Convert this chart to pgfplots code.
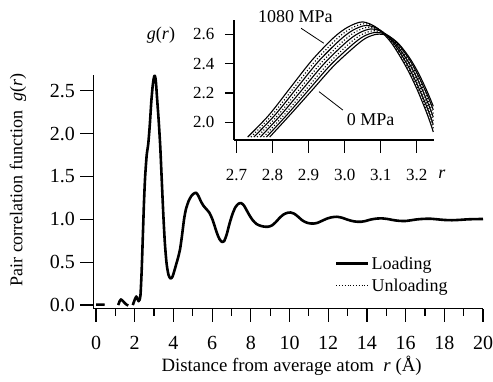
\documentclass[border=0pt]{standalone}
\usepackage{pgfplots}
\pgfplotsset{compat=1.18}
\usepackage{fontspec}
\setmainfont{Liberation Serif}
\begin{document}
\begin{tikzpicture}[x=1pt,y=1pt]
\path[use as bounding box] (0,0) rectangle (493,381);
% ---------------- main axis ----------------
\begin{axis}[
  at={(93.1pt,72.5pt)}, anchor=south west,
  scale only axis, width=389.9pt, height=233.5pt,
  xmin=-0.15, xmax=20, ymin=-0.04, ymax=2.684,
  axis x line*=bottom, axis y line*=left,
  axis line style={line width=1.2pt},
  every tick/.style={black, line width=1.2pt},
  tick align=outside,
  major tick length=13pt, minor tick length=7pt,
  xtick={0,2,4,6,8,10,12,14,16,18,20},
  minor xtick={1,3,5,7,9,11,13,15,17,19},
  ytick={0,0.5,1,1.5,2,2.5},
  /pgf/number format/assume math mode=true,
  tick label style={font=\fontsize{20}{20}\selectfont},
  xticklabel style={anchor=base, inner sep=0pt, yshift=-27.8pt},
  yticklabel style={anchor=east, inner sep=0pt, xshift=-5pt,
    /pgf/number format/.cd, fixed, fixed zerofill, precision=1},
  clip=false,
  unbounded coords=jump,
  legend style={at={(axis description cs:0.62,0.232)}, anchor=north west,
    draw=none, fill=none, inner sep=0pt, row sep=4pt,
    font=\fontsize{18}{18}\selectfont,
    /tikz/every even column/.append style={column sep=9pt}},
  legend cell align=left,
  legend image code/.code={\draw[#1] (0pt,0pt) -- (32pt,0pt);},
]
\addplot[black, line width=2.6pt, line join=round, smooth, tension=0.4, no marks] coordinates {
(0.00,0.005) (0.45,0.005) (nan,nan)
(1.15,0.00) (1.22,0.045) (1.29,0.066) (1.38,0.05) (1.48,0.025) (1.58,0.005) (1.67,-0.005) (nan,nan)
(1.90,0.00) (1.98,0.05) (2.08,0.10) (2.15,0.07) (2.20,0.045) (2.25,0.06) (2.30,0.12)
(2.36,0.40) (2.42,0.80) (2.48,1.20) (2.54,1.50) (2.62,1.75) (2.70,1.88) (2.78,2.10)
(2.86,2.38) (2.94,2.58) (3.00,2.66) (3.04,2.675) (3.09,2.62) (3.16,2.40) (3.24,2.15)
(3.32,1.85) (3.40,1.45) (3.48,1.05) (3.56,0.72) (3.65,0.48) (3.75,0.35) (3.85,0.31)
(3.95,0.33) (4.05,0.40) (4.15,0.48) (4.25,0.56) (4.35,0.66) (4.45,0.82) (4.55,1.00)
(4.65,1.12) (4.78,1.21) (4.92,1.27) (5.05,1.30) (5.18,1.31) (5.30,1.27) (5.42,1.21)
(5.55,1.16) (5.70,1.12) (5.85,1.08) (6.00,1.01) (6.12,0.93) (6.25,0.84) (6.38,0.77)
(6.52,0.735) (6.62,0.745) (6.75,0.82) (6.90,0.95) (7.05,1.06) (7.20,1.14) (7.35,1.18)
(7.50,1.19) (7.65,1.16) (7.80,1.10) (7.95,1.04) (8.10,0.99) (8.30,0.945) (8.50,0.925)
(8.70,0.915) (8.90,0.914) (9.10,0.93) (9.30,0.97) (9.50,1.02) (9.70,1.058) (9.90,1.077)
(10.05,1.08) (10.25,1.065) (10.45,1.03) (10.65,0.99) (10.85,0.965) (11.05,0.953)
(11.25,0.951) (11.45,0.96) (11.70,0.985) (11.95,1.01) (12.20,1.025) (12.45,1.03)
(12.70,1.02) (12.95,1.00) (13.20,0.983) (13.45,0.973) (13.70,0.972) (13.95,0.982)
(14.20,0.998) (14.50,1.009) (14.80,1.011) (15.10,1.003) (15.40,0.99) (15.70,0.982)
(16.00,0.981) (16.30,0.99) (16.60,1.00) (16.95,1.006) (17.30,1.007) (17.65,1.00)
(18.00,0.993) (18.40,0.99) (18.80,0.994) (19.20,1.00) (19.60,1.003) (20.00,1.004)
};
\addlegendentry{Loading}
\addplot[black, line width=0.8pt, dotted, smooth, tension=0.4, no marks] coordinates {
(0.00,0.005) (0.45,0.005) (nan,nan)
(1.15,0.00) (1.22,0.045) (1.29,0.066) (1.38,0.05) (1.48,0.025) (1.58,0.005) (1.67,-0.005) (nan,nan)
(1.90,0.00) (1.98,0.05) (2.08,0.10) (2.15,0.07) (2.20,0.045) (2.25,0.06) (2.30,0.12)
(2.36,0.40) (2.42,0.80) (2.48,1.20) (2.54,1.50) (2.62,1.75) (2.70,1.88) (2.78,2.10)
(2.86,2.38) (2.94,2.58) (3.00,2.66) (3.04,2.675) (3.09,2.62) (3.16,2.40) (3.24,2.15)
(3.32,1.85) (3.40,1.45) (3.48,1.05) (3.56,0.72) (3.65,0.48) (3.75,0.35) (3.85,0.31)
(3.95,0.33) (4.05,0.40) (4.15,0.48) (4.25,0.56) (4.35,0.66) (4.45,0.82) (4.55,1.00)
(4.65,1.12) (4.78,1.21) (4.92,1.27) (5.05,1.30) (5.18,1.31) (5.30,1.27) (5.42,1.21)
(5.55,1.16) (5.70,1.12) (5.85,1.08) (6.00,1.01) (6.12,0.93) (6.25,0.84) (6.38,0.77)
(6.52,0.735) (6.62,0.745) (6.75,0.82) (6.90,0.95) (7.05,1.06) (7.20,1.14) (7.35,1.18)
(7.50,1.19) (7.65,1.16) (7.80,1.10) (7.95,1.04) (8.10,0.99) (8.30,0.945) (8.50,0.925)
(8.70,0.915) (8.90,0.914) (9.10,0.93) (9.30,0.97) (9.50,1.02) (9.70,1.058) (9.90,1.077)
(10.05,1.08) (10.25,1.065) (10.45,1.03) (10.65,0.99) (10.85,0.965) (11.05,0.953)
(11.25,0.951) (11.45,0.96) (11.70,0.985) (11.95,1.01) (12.20,1.025) (12.45,1.03)
(12.70,1.02) (12.95,1.00) (13.20,0.983) (13.45,0.973) (13.70,0.972) (13.95,0.982)
(14.20,0.998) (14.50,1.009) (14.80,1.011) (15.10,1.003) (15.40,0.99) (15.70,0.982)
(16.00,0.981) (16.30,0.99) (16.60,1.00) (16.95,1.006) (17.30,1.007) (17.65,1.00)
(18.00,0.993) (18.40,0.99) (18.80,0.994) (19.20,1.00) (19.60,1.003) (20.00,1.004)
};
\addlegendentry{Unloading}
\end{axis}
% axis labels of the main plot
\node[font=\fontsize{18.8}{18.8}\selectfont, anchor=base, inner sep=0pt] at (291.6,9.5) {Distance from average atom\ \ \textit{r} (Å)};
\node[font=\fontsize{18}{18}\selectfont, anchor=center, inner sep=0pt, rotate=90] at (18,201) {Pair correlation function\ \ \textit{g}(\textit{r})};
% ---------------- inset: x ticks only overlay ----------------
\begin{axis}[
  at={(234pt,241pt)}, anchor=south west,
  scale only axis, width=200pt, height=120pt,
  xmin=2.693, xmax=3.248, ymin=1.88, ymax=2.697,
  axis x line*=bottom, axis y line=none,
  axis line style={line width=1.2pt},
  every tick/.style={black, line width=1.2pt},
  tick align=outside, major tick length=13pt,
  xtick={2.7,2.8,2.9,3.0,3.1,3.2}, ytick=\empty,
  /pgf/number format/assume math mode=true,
  tick label style={font=\fontsize{17}{17}\selectfont},
  xticklabel style={anchor=base, inner sep=0pt, yshift=-27.3pt,
    /pgf/number format/.cd, fixed, fixed zerofill, precision=1},
]
\addplot[draw=none, no marks] coordinates {(2.8,2.0)};
\end{axis}
% ---------------- inset ----------------
\begin{axis}[
  at={(234pt,241pt)}, anchor=south west,
  scale only axis, width=200pt, height=120pt,
  xmin=2.693, xmax=3.248, ymin=1.88, ymax=2.697,
  axis x line*=bottom, axis y line*=left,
  axis line style={line width=1.2pt},
  every tick/.style={black, line width=1.2pt},
  tick align=outside, major tick length=9pt,
  xtick=\empty, ytick={2.0,2.2,2.4,2.6},
  /pgf/number format/assume math mode=true,
  tick label style={font=\fontsize{17}{17}\selectfont},
  yticklabel style={anchor=east, inner sep=0pt, xshift=-10.5pt,
    /pgf/number format/.cd, fixed, fixed zerofill, precision=1},
  clip=false,
]
% 1080 MPa
\addplot[black, line width=1.1pt, smooth, tension=0.5, no marks] coordinates {(2.731,1.900) (2.790,2.050) (2.850,2.238) (2.910,2.425) (2.970,2.578) (3.010,2.650) (3.050,2.684) (3.090,2.643) (3.130,2.540) (3.170,2.380) (3.200,2.230) (3.230,2.050) (3.246,1.935)};
\addplot[black, line width=1.1pt, dotted, smooth, tension=0.5, no marks] coordinates {(2.740,1.900) (2.799,2.051) (2.859,2.235) (2.919,2.419) (2.979,2.570) (3.017,2.639) (3.056,2.672) (3.094,2.635) (3.133,2.539) (3.171,2.389) (3.201,2.245) (3.230,2.072) (3.246,1.960)};
\addplot[black, line width=1.1pt, smooth, tension=0.5, no marks] coordinates {(2.748,1.900) (2.807,2.051) (2.867,2.233) (2.927,2.414) (2.987,2.561) (3.024,2.629) (3.061,2.660) (3.099,2.628) (3.136,2.539) (3.173,2.397) (3.201,2.260) (3.230,2.094) (3.246,1.985)};
\addplot[black, line width=1.1pt, dotted, smooth, tension=0.5, no marks] coordinates {(2.757,1.900) (2.816,2.052) (2.876,2.230) (2.936,2.408) (2.996,2.553) (3.031,2.618) (3.067,2.648) (3.103,2.620) (3.139,2.538) (3.174,2.406) (3.202,2.275) (3.230,2.116) (3.246,2.010)};
\addplot[black, line width=1.1pt, smooth, tension=0.5, no marks] coordinates {(2.766,1.900) (2.824,2.053) (2.884,2.228) (2.944,2.402) (3.004,2.545) (3.039,2.607) (3.073,2.636) (3.107,2.613) (3.141,2.537) (3.176,2.414) (3.203,2.290) (3.230,2.139) (3.246,2.035)};
\addplot[black, line width=1.1pt, dotted, smooth, tension=0.5, no marks] coordinates {(2.775,1.900) (2.833,2.054) (2.893,2.225) (2.953,2.396) (3.013,2.537) (3.046,2.596) (3.079,2.624) (3.111,2.605) (3.144,2.536) (3.177,2.423) (3.204,2.305) (3.230,2.161) (3.246,2.060)};
\addplot[black, line width=1.1pt, smooth, tension=0.5, no marks] coordinates {(2.783,1.900) (2.841,2.054) (2.901,2.223) (2.961,2.391) (3.021,2.528) (3.053,2.586) (3.084,2.612) (3.116,2.598) (3.147,2.536) (3.179,2.431) (3.204,2.320) (3.230,2.183) (3.246,2.085)};
% 0 MPa
\addplot[black, line width=1.1pt, smooth, tension=0.5, no marks] coordinates {(2.792,1.900) (2.850,2.055) (2.910,2.220) (2.970,2.385) (3.030,2.520) (3.060,2.575) (3.090,2.600) (3.120,2.590) (3.150,2.535) (3.180,2.440) (3.205,2.335) (3.230,2.205) (3.246,2.110)};
\node[font=\fontsize{18}{18}\selectfont, anchor=base, inner sep=0pt] at (axis description cs:-0.365,0.84) {\textit{g}(\textit{r})};
\node[font=\fontsize{18}{18}\selectfont, anchor=base, inner sep=0pt] at (axis description cs:1.04,-0.319) {\textit{r}};
\node[font=\fontsize{18}{18}\selectfont, anchor=center, inner sep=0pt] at (axis cs:2.863,2.72) {1080 MPa};
\draw[black, line width=0.8pt] (axis cs:2.879,2.641) -- (axis cs:2.942,2.539);
\node[font=\fontsize{18}{18}\selectfont, anchor=center, inner sep=0pt] at (axis cs:3.072,2.016) {0 MPa};
\draw[black, line width=0.8pt] (axis cs:2.929,2.209) -- (axis cs:2.995,2.084);
\end{axis}
\end{tikzpicture}
\end{document}
